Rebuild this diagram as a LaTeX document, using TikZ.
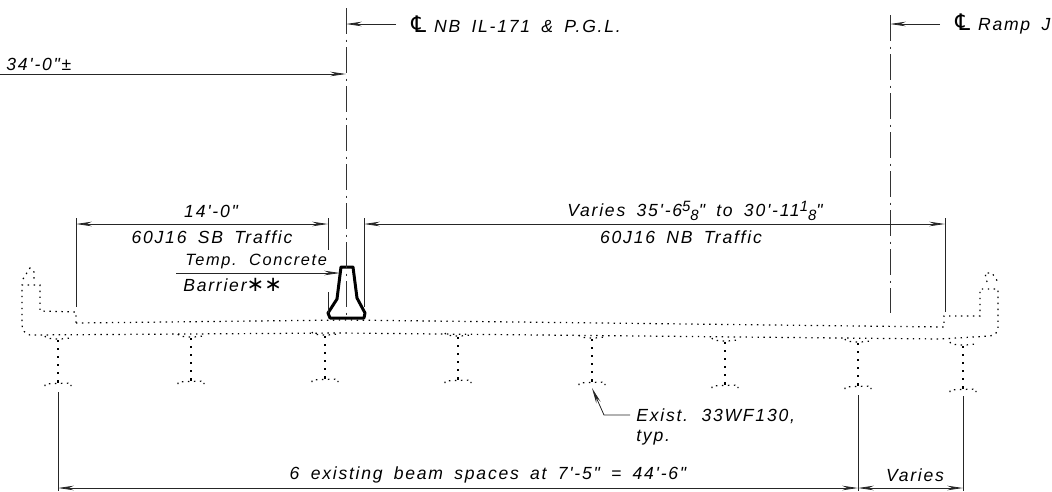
\documentclass[tikz,border=0pt]{standalone}
\usepackage{fontspec}
\usetikzlibrary{arrows.meta}
\newfontfamily\dimfont[LetterSpace=10,WordSpace=1.7]{Liberation Sans}
\newfontfamily\symfont{DejaVu Sans}
\newcommand{\myfrac}[2]{{\fontsize{8.5pt}{9pt}\selectfont\raisebox{.7ex}{#1}\raisebox{-.5ex}{#2}}}
\newcommand{\mycl}{{\symfont\fontsize{13pt}{13pt}\selectfont ℄}}
\tikzset{
    dimline/.style={line width=.45pt,black!85},
    dimarrow/.style={dimline,{Stealth[length=9pt,width=2.6pt]}-{Stealth[length=9pt,width=2.6pt]}},
    leader/.style={dimline,-{Stealth[length=9pt,width=2.6pt]}},
    centerline/.style={line width=.5pt,black!80,dash pattern=on 15pt off 3pt on 1.2pt off 3pt},
    hidden/.style={line width=.7pt,dash pattern=on .8pt off 2.6pt},
    beamweb/.style={line width=1.1pt,dash pattern=on 1.2pt off 3.4pt},
    txt/.style={inner sep=0pt,font=\dimfont\itshape\fontsize{10pt}{12pt}\selectfont}
}
\begin{document}
\begin{tikzpicture}[x=.02cm,y=-.02cm]
    \useasboundingbox (0,0) rectangle (1052,491);
    \def\mybeamtop{(-13,0) -- (-12,2) -- (-3,3) -- (3,3) -- (12,2) -- (13,0)}
    \def\mybeamfoot{(-13,50) -- (-13,48) -- (13,47) -- (13,50)}
    % existing beams
    \foreach \bx/\by in {58/336,191/334,325/332,458/333,592/335,725/338,858/339,963/342}{
        \draw [hidden,shift={(\bx,\by)}]\mybeamtop;
        \draw [hidden,shift={(\bx,\by)}]\mybeamfoot;
        \draw [beamweb,shift={(\bx,\by)}](0,4) -- (0,47);
    }
    % deck and parapets
    \draw [hidden](76,323) -- (345,320) -- (944,327) -- (944,316) -- (980,316) -- (980,289) -- (998,289) -- (998,326)
        .. controls (998,333) and (995,335) .. (990,336) -- (940,339) -- (340,333) -- (30,335)
        .. controls (25,334) and (22,330) .. (22,325) -- (22,285) -- (40,285) -- (40,311) -- (76,312) -- cycle;
    \draw [hidden](23,279) -- (30,268) -- (34,272) -- (34,279);
    \draw [hidden](987,282) -- (985,273) -- (992,273) -- (998,282);
    % barrier
    \draw [line width=1.7pt,line join=round](341,267) -- (353,267) -- (357,298) -- (365,313) -- (364,318) -- (330,318) -- (328,313) -- (337,299) -- cycle;
    % center lines
    \coordinate (cnb) at (346,8);
    \coordinate (cnbend) at (346,318);
    \coordinate (cramp) at (890,15);
    \coordinate (crampend) at (890,313);
    \draw [centerline](cnb) -- (cnbend);
    \draw [centerline](cramp) -- (crampend);
    % labels at the top
    \coordinate (nbarrow) at (346,24);
    \coordinate (nbtail) at (396,24);
    \coordinate (ramparrow) at (890,24);
    \coordinate (ramptail) at (940,24);
    \coordinate (wtail) at (0,74);
    \coordinate (warrow) at (346,74);
    \draw [leader](nbtail) -- (nbarrow);
    \draw [leader](ramptail) -- (ramparrow);
    \draw [leader](wtail) -- (warrow);
    \node (nblabel) [txt,anchor=west] at (408,24) {\mycl\hspace{3pt}NB IL-171 \& P.G.L.};
    \node (ramplabel) [txt,anchor=west] at (952,24) {\mycl\hspace{3pt}Ramp J};
    \node (wlabel) [txt,anchor=west] at (6,64) {34'-0"±};
    % traffic dimensions
    \coordinate (sba) at (76,224);
    \coordinate (sbb) at (328,224);
    \coordinate (nba) at (364,224);
    \coordinate (nbb) at (945,224);
    \draw [dimarrow](sba) -- (sbb);
    \draw [dimarrow](nba) -- (nbb);
    \draw [dimline](76,218) -- (76,307);
    \draw [dimline](328,218) -- (328,250) (328,292) -- (328,313);
    \draw [dimline](364,218) -- (364,307);
    \draw [dimline](945,218) -- (945,312);
    \node (sbdim) [txt] at (211,211) {14'-0"};
    \node (sbtxt) [txt] at (212,237) {60J16 SB Traffic};
    \node (nbdim) [txt] at (695,211) {Varies 35'-6\myfrac{5}{8}" to 30'-11\myfrac{1}{8}"};
    \node (nbtxt) [txt] at (681,237) {60J16 NB Traffic};
    % barrier note
    \coordinate (notea) at (176,273);
    \coordinate (noteb) at (340,273);
    \draw [leader](notea) -- (noteb);
    \node (notetop) [txt,anchor=west,font=\dimfont\itshape\fontsize{9.3pt}{12pt}\selectfont] at (185,261) {Temp. Concrete};
    \node (notebot) [txt,anchor=west] at (183,285) {Barrier{\symfont\fontsize{12pt}{12pt}\selectfont ∗∗}};
    % beam note
    \coordinate (beama) at (630,415);
    \coordinate (beamb) at (604,415);
    \coordinate (beamc) at (592,388);
    \draw [leader](beama) -- (beamb) -- (beamc);
    \node (beamtxt) [txt,anchor=west] at (636,416) {Exist. 33WF130,};
    \node (typtxt) [txt,anchor=west] at (636,438) {typ.};
    % beam spacing
    \coordinate (spa) at (58,488);
    \coordinate (spb) at (858,488);
    \coordinate (spc) at (963,488);
    \draw [dimarrow](spa) -- (spb);
    \draw [dimarrow](spb) -- (spc);
    \draw [dimline](58,392) -- (58,491);
    \draw [dimline](858,395) -- (858,491);
    \draw [dimline](963,396) -- (963,491);
    \node (sptxt) [txt] at (488,475) {6 existing beam spaces at 7'-5" = 44'-6"};
    \node (vartxt) [txt] at (915,475) {Varies};
\end{tikzpicture}
\end{document}
